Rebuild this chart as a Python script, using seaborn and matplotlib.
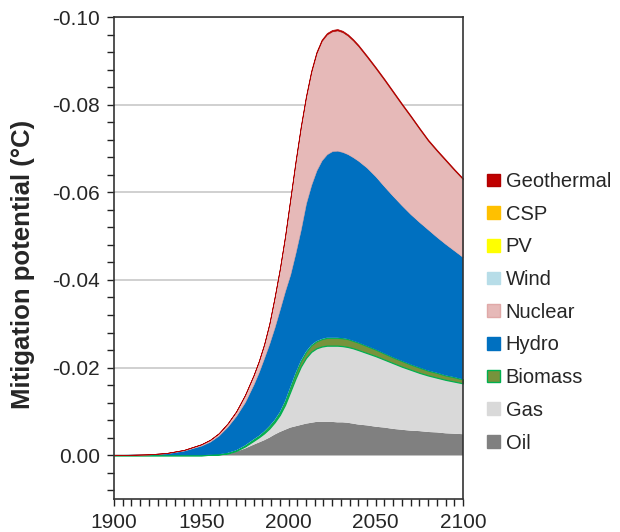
import numpy as np
import matplotlib
matplotlib.use("Agg")
import matplotlib.pyplot as plt
from matplotlib.patches import Patch
from matplotlib.ticker import MultipleLocator, FuncFormatter
import seaborn as sns

# ---- data (magnitudes in °C; mitigation is drawn as negative values) ----
years = [1900, 1910, 1920, 1930, 1940, 1950, 1955, 1960, 1965, 1970, 1975, 1980,
         1983, 1986, 1989, 1992, 1995, 1998, 2001, 2004, 2007, 2010, 2013, 2016,
         2019, 2022, 2025, 2028, 2031, 2034, 2037, 2040, 2045, 2050, 2055, 2060,
         2065, 2070, 2075, 2080, 2085, 2090, 2095, 2100]

oil = [0, 0, 0, 0, 0, 0, 0, 0.0001, 0.0002, 0.0008, 0.0015, 0.0024,
       0.0029, 0.0034, 0.0040, 0.0047, 0.0053, 0.0058, 0.0063, 0.0066, 0.0069, 0.0072,
       0.0074, 0.0076, 0.0076, 0.0076, 0.0076, 0.0075, 0.0075, 0.0074, 0.0072, 0.0070,
       0.0068, 0.0065, 0.0063, 0.0060, 0.0058, 0.0056, 0.0055, 0.0053, 0.0052, 0.0050,
       0.0049, 0.0048]
gas = [0, 0, 0, 0, 0, 0, 0.0001, 0.0001, 0.0002, 0.0002, 0.0005, 0.0009,
       0.0012, 0.0016, 0.0021, 0.0028, 0.0039, 0.0057, 0.0082, 0.0109, 0.0133, 0.0150,
       0.0162, 0.0168, 0.0172, 0.0174, 0.0174, 0.0175, 0.0174, 0.0173, 0.0172, 0.0170,
       0.0165, 0.0161, 0.0155, 0.0150, 0.0144, 0.0139, 0.0133, 0.0129, 0.0125, 0.0122,
       0.0119, 0.0116]
biomass = [0, 0, 0, 0, 0, 0, 0, 0, 0.0001, 0.0001, 0.0002, 0.0003,
           0.0003, 0.0004, 0.0005, 0.0005, 0.0006, 0.0008, 0.0010, 0.0012, 0.0013, 0.0014,
           0.0015, 0.0016, 0.0017, 0.0018, 0.0018, 0.0018, 0.0018, 0.0018, 0.0017, 0.0017,
           0.0016, 0.0015, 0.0014, 0.0013, 0.0013, 0.0012, 0.0012, 0.0011, 0.0011, 0.0010,
           0.0010, 0.0009]
hydro = [0, 0.00008, 0.00017, 0.00043, 0.00105, 0.0022, 0.0030, 0.0043, 0.0060, 0.0079,
         0.0099, 0.0126, 0.0146, 0.0168, 0.0189, 0.0212, 0.0235, 0.0252, 0.0258, 0.0275,
         0.0300, 0.0339, 0.0366, 0.0390, 0.0408, 0.0419, 0.0426, 0.0427, 0.0425, 0.0422,
         0.0419, 0.0415, 0.0407, 0.0395, 0.0381, 0.0368, 0.0355, 0.0343, 0.0332, 0.0322,
         0.0310, 0.0300, 0.0289, 0.0279]
nuclear = [0, 0.00002, 0.00003, 0.00007, 0.00015, 0.0003, 0.0004, 0.0005, 0.0007, 0.0010,
           0.0016, 0.0021, 0.0025, 0.0031, 0.0045, 0.0068, 0.0092, 0.0124, 0.0171, 0.0206,
           0.0232, 0.0241, 0.0256, 0.0266, 0.0271, 0.0272, 0.0272, 0.0273, 0.0272, 0.0269,
           0.0265, 0.0260, 0.0251, 0.0245, 0.0241, 0.0235, 0.0228, 0.0221, 0.0211, 0.0201,
           0.0195, 0.0189, 0.0182, 0.0176]
wind = [0] * 19 + [0.0001] * 25
pv = [0] * 21 + [0.00003] * 23
csp = [0] * 22 + [0.00002] * 22
geothermal = [0] * 17 + [0.00005, 0.0001, 0.00015, 0.0002, 0.00025, 0.0003] + \
             [0.0003] * 13 + [0.00029, 0.00028, 0.00028, 0.00027, 0.00026, 0.00026,
                              0.00025, 0.00025]

labels = ["Oil", "Gas", "Biomass", "Hydro", "Nuclear", "Wind", "PV", "CSP", "Geothermal"]
series = [oil, gas, biomass, hydro, nuclear, wind, pv, csp, geothermal]
colors = ["#808080", "#d9d9d9", "#77933c", "#0070c0", "#e6b9b8",
          "#b7dde8", "#ffff00", "#ffc000", "#c00000"]
edges = ["none", "none", "#00b050", "none", "#e0a9a8",
         "none", "none", "none", "#b00000"]
lws = [0, 0, 0.9, 0, 0.4, 0, 0, 0, 0.5]

sns.set_style("ticks")
plt.rcParams["font.family"] = ["Liberation Sans", "DejaVu Sans"]

fig = plt.figure(figsize=(6.2, 5.32), dpi=100)
ax = fig.add_axes([0.1839, 0.062, 0.5629, 0.906])

vals = [-np.array(s) for s in series]
polys = ax.stackplot(years, *vals, colors=colors, labels=labels, zorder=2)
for p, ec, lw in zip(polys, edges, lws):
    p.set_edgecolor(ec)
    p.set_linewidth(lw)

ax.set_xlim(1900, 2100)
ax.set_ylim(0.01, -0.10)
ax.xaxis.set_major_locator(MultipleLocator(50))
ax.xaxis.set_minor_locator(MultipleLocator(5))
ax.yaxis.set_major_locator(MultipleLocator(0.02))
ax.yaxis.set_minor_locator(MultipleLocator(0.004))
ax.yaxis.set_major_formatter(
    FuncFormatter(lambda v, p: "0.00" if abs(v) < 1e-9 else f"{v:.2f}"))
ax.tick_params(axis="both", which="both", direction="out", length=5, width=1,
               color="#222222", labelsize=15, top=False, right=False, pad=5)
ax.yaxis.grid(True, which="major", color="#c8c8c8", linewidth=1.2, zorder=0)
ax.set_axisbelow(True)
for s in ax.spines.values():
    s.set_color("#333333")
    s.set_linewidth(1.2)
    s.set_zorder(3)

ax.set_ylabel("Mitigation potential (°C)", fontsize=18.5, fontweight="bold")
ax.yaxis.set_label_coords(-0.226, 0.486)

handles = [Patch(facecolor=c, edgecolor=(e if e != "none" else c), linewidth=1)
           for c, e in zip(colors, edges)]
fig.legend(handles[::-1], labels[::-1], loc="center left",
           bbox_to_anchor=(0.757, 0.413), frameon=False, fontsize=14.5,
           handlelength=0.6, handleheight=0.6, handletextpad=0.3,
           labelspacing=0.68)

fig.savefig("out.png", dpi=100)
